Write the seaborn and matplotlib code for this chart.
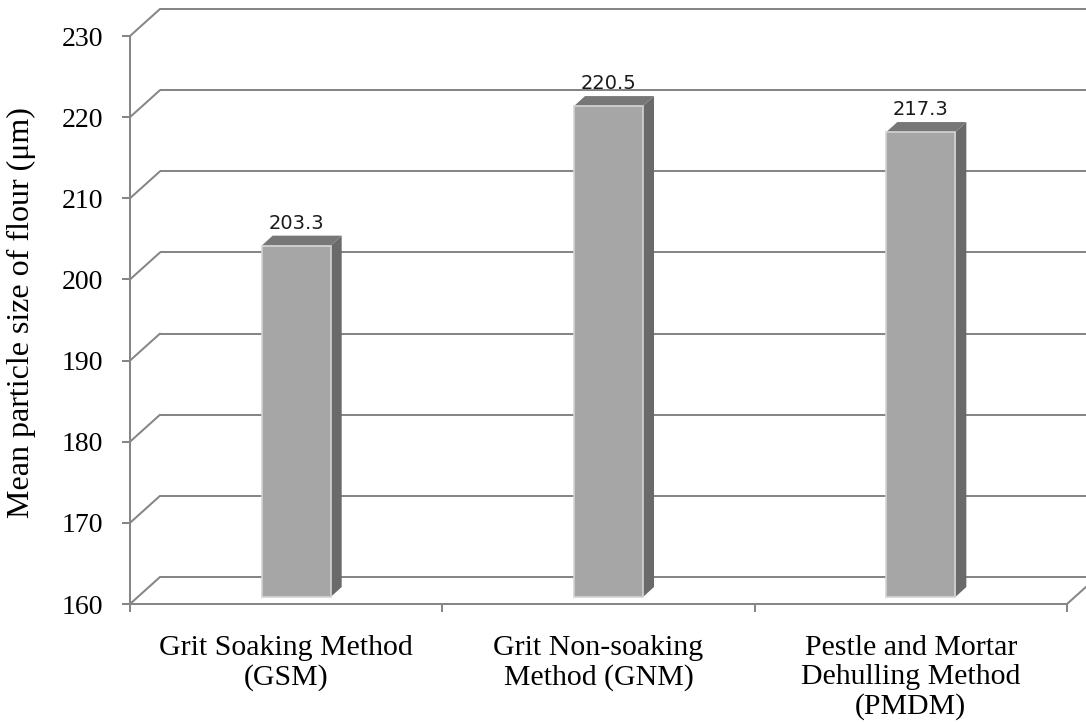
import matplotlib
matplotlib.use("Agg")
import matplotlib.pyplot as plt
from matplotlib.patches import Polygon
from matplotlib.transforms import offset_copy
import seaborn as sns
import pandas as pd

# Data
categories = [
    "Grit Soaking Method\n(GSM)",
    "Grit Non-soaking\nMethod (GNM)",
    "Pestle and Mortar\nDehulling Method\n(PMDM)",
]
values = [203.3, 220.5, 217.3]
y_ticks = [160, 170, 180, 190, 200, 210, 220, 230]
y_label = "Mean particle size of flour (\u03bcm)"

# Colours
FRONT = "#a6a6a6"
FRONT_EDGE = "#d4d4d4"
TOP = "#777777"
SIDE = "#6a6a6a"
GRID = "#868686"

sns.set_theme(style="white")
plt.rcParams["font.family"] = ["Liberation Serif", "DejaVu Serif"]

W, H, DPI = 1086, 723, 100
fig = plt.figure(figsize=(W / DPI, H / DPI), dpi=DPI)
fig.patch.set_facecolor("white")
ax = fig.add_axes([130 / W, 1 - 604 / H, (1067 - 130) / W, (604 - 36) / H])
ax.set_facecolor("none")

df = pd.DataFrame({"method": categories, "size": values})
sns.barplot(data=df, x="method", y="size", color=FRONT, saturation=1,
            width=0.221, edgecolor=FRONT_EDGE, linewidth=1.2, ax=ax, zorder=4)

ymin, ymax = y_ticks[0], y_ticks[-1]
ax.set_xlim(-0.5, len(categories) - 0.5)
ax.set_ylim(ymin, ymax)

# pixel -> data scale factors
sx = ax.bbox.width / len(categories)
sy = ax.bbox.height / (ymax - ymin)

# pseudo-3D geometry (pixel offsets)
WALL_DX, WALL_DY = 30, 27      # depth of floor / side wall
BAR_DX, BAR_DY = 10, 7         # front face of the bars sits inside the box
DEP_DX, DEP_DY = 11, 10        # depth of each bar

wdx, wdy = WALL_DX / sx, WALL_DY / sy
bdx, bdy = DEP_DX / sx, DEP_DY / sy
lw = 1.45
xl, xr = ax.get_xlim()

# back wall gridlines, side-wall diagonals
for t in y_ticks:
    ax.plot([xl + wdx, xr + wdx + 0.2], [t + wdy, t + wdy], color=GRID,
            lw=lw, clip_on=False, zorder=1, solid_capstyle="butt")
    ax.plot([xl, xl + wdx], [t, t + wdy], color=GRID, lw=lw,
            clip_on=False, zorder=1)
# floor right edge
ax.plot([xr, xr + wdx], [ymin, ymin + wdy], color=GRID, lw=lw,
        clip_on=False, zorder=1)

# bars: shift front faces into the box and add top / side faces
bar_tr = offset_copy(ax.transData, fig=fig, x=BAR_DX, y=BAR_DY, units="dots")
for p, v in zip(ax.patches, values):
    x0, w = p.get_x(), p.get_width()
    p.set_y(ymin)
    p.set_height(v - ymin)
    p.set_transform(bar_tr)
    p.set_clip_on(False)
    top = Polygon([(x0, v), (x0 + w, v), (x0 + w + bdx, v + bdy), (x0 + bdx, v + bdy)],
                  closed=True, facecolor=TOP, edgecolor="none",
                  transform=bar_tr, clip_on=False, zorder=3)
    side = Polygon([(x0 + w, ymin), (x0 + w + bdx, ymin + bdy),
                    (x0 + w + bdx, v + bdy), (x0 + w, v)],
                   closed=True, facecolor=SIDE, edgecolor="none",
                   transform=bar_tr, clip_on=False, zorder=3)
    ax.add_patch(top)
    ax.add_patch(side)
    ax.annotate(f"{v:.1f}", xy=(x0 + w / 2, v), xytext=(BAR_DX, BAR_DY + 17),
                textcoords="offset pixels", ha="center", va="baseline",
                fontsize=14, family=["DejaVu Sans"], color="#1a1a1a",
                annotation_clip=False, zorder=5)

# front frame
for s in ["top", "right"]:
    ax.spines[s].set_visible(False)
for s in ["left", "bottom"]:
    ax.spines[s].set_color(GRID)
    ax.spines[s].set_linewidth(lw)
    ax.spines[s].set_zorder(2)

ax.set_yticks(y_ticks)
ax.set_yticklabels([str(t) for t in y_ticks])
ax.tick_params(axis="y", which="major", left=True, length=5.8, width=lw,
               color=GRID, labelsize=20, pad=13.5, labelcolor="black")

ax.set_xticks(range(len(categories)))
ax.set_xticklabels(categories, linespacing=1.15)
ax.set_xticks([i - 0.5 for i in range(len(categories) + 1)], minor=True)
ax.tick_params(axis="x", which="major", length=0, labelsize=21.5, pad=22,
               labelcolor="black")
ax.tick_params(axis="x", which="minor", bottom=True, length=5.8, width=lw,
               color=GRID)
ax.set_xlabel("")
ax.set_ylabel("")
fig.text(21 / W, 1 - 313 / H, y_label, rotation=90, ha="center", va="center",
         fontsize=23, color="black")

fig.savefig("out.png", dpi=DPI, facecolor="white")
